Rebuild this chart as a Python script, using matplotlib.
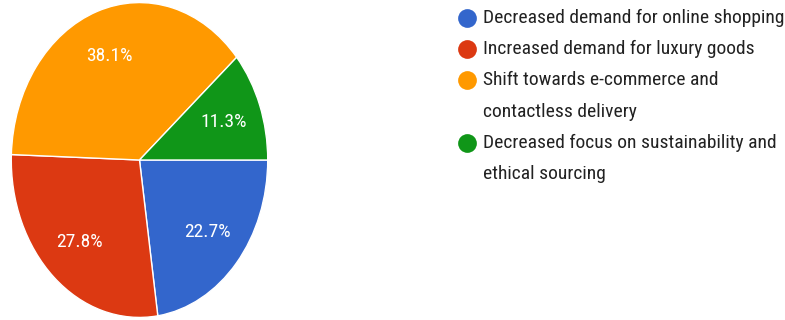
import matplotlib
matplotlib.use("Agg")
import matplotlib.pyplot as plt
from matplotlib import font_manager

# pick a narrow sans, the reference text is squeezed horizontally
names = {f.name for f in font_manager.fontManager.ttflist}
font = "DejaVu Sans"
for cand in ["Liberation Sans Narrow", "Roboto Condensed", "Liberation Sans", "Roboto"]:
    if cand in names:
        font = cand
        break
plt.rcParams["font.family"] = [font, "DejaVu Sans"]

labels = ["Decreased demand for online shopping",
          "Increased demand for luxury goods",
          "Shift towards e-commerce and\ncontactless delivery",
          "Decreased focus on sustainability and\nethical sourcing"]
shares = [22.7, 27.8, 38.1, 11.3]
colors = ["#3366CC", "#DC3912", "#FF9900", "#109618"]

W, H = 785, 320
fig = plt.figure(figsize=(W / 100, H / 100), dpi=100)

# pie is stretched vertically in the reference -> ellipse
ax = fig.add_axes([10 / W, 1 / H, 259 / W, 318 / H])
wedges, texts, autotexts = ax.pie(shares, colors=colors, startangle=0, counterclock=False,
                                  autopct="%.1f%%", pctdistance=0.70,
                                  wedgeprops=dict(edgecolor="white", linewidth=1.0),
                                  textprops=dict(color="white", fontsize=14))
ax.set_aspect("auto")
ax.set_xlim(-1.01, 1.01)
ax.set_ylim(-1.01, 1.01)

# legend drawn by hand so the dot sits on the first line of wrapped labels
lax = fig.add_axes([0, 0, 1, 1])
lax.set_xlim(0, W)
lax.set_ylim(H, 0)
lax.axis("off")
line = 0
for lab, c in zip(labels, colors):
    lax.plot(466.5, 18 + line * 31.2, "o", color=c, markersize=13.5, markeredgewidth=0)
    for part in lab.split("\n"):
        lax.text(483, 18 + line * 31.2, part, fontsize=14, color="#222222", va="center")
        line += 1

fig.savefig("out.png", dpi=100)
